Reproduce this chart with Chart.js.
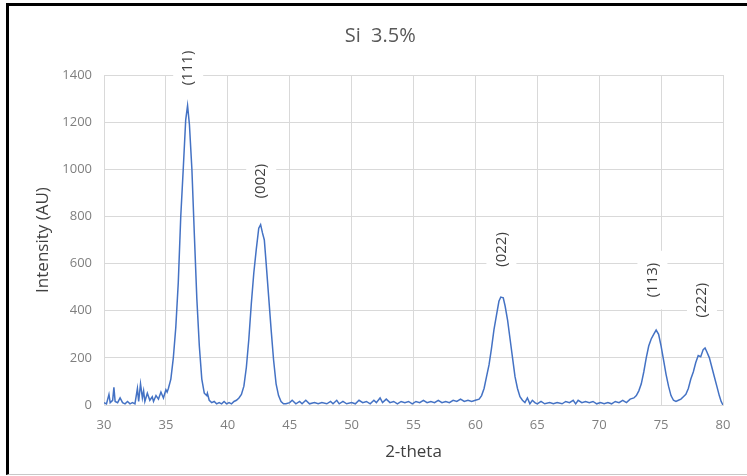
<!DOCTYPE html>
<html>
<head>
<meta charset="utf-8">
<script src="https://cdn.jsdelivr.net/npm/chart.js@4.4.0/dist/chart.umd.min.js"></script>
<style>
  html, body { margin: 0; padding: 0; background: #fff; }
  #wrap { position: relative; width: 747px; height: 476px; }
  #frame {
    position: absolute; left: 6px; top: 3px; width: 741px; height: 472px;
    border-left: 3px solid #000; border-top: 3px solid #000; border-bottom: 1px solid #c8c8c8;
    box-sizing: border-box; pointer-events: none;
  }
</style>
</head>
<body>
<div id="wrap">
  <canvas id="myChart" width="747" height="476"></canvas>
  <div id="frame"></div>
</div>
<script>
const chartTitle = "Si  3.5%"

const twoTheta = [
  30.0, 30.2, 30.4, 30.5, 30.7, 30.8, 30.9, 31.1, 31.3, 31.5, 31.7, 31.9, 32.1, 32.3, 32.5, 32.7, 32.8, 32.95, 33.1, 33.2,
  33.3, 33.5, 33.7, 33.9, 34.0, 34.2, 34.4, 34.6, 34.8, 35.0, 35.1, 35.2,
  35.4, 35.6, 35.8, 36.0, 36.2, 36.4, 36.6, 36.75, 36.9, 37.1, 37.3, 37.5, 37.7, 37.9, 38.1, 38.3, 38.35, 38.5, 38.7,
  38.9, 39.1, 39.3, 39.5, 39.7, 39.9, 40.1, 40.3, 40.5, 40.7, 40.9, 41.1,
  41.3, 41.5, 41.7, 41.9, 42.1, 42.3, 42.5, 42.65, 42.8, 42.95, 43.1, 43.3, 43.5, 43.7, 43.9, 44.1, 44.3, 44.5,
  44.7, 45.0, 45.2, 45.5, 45.8, 46.0, 46.3, 46.6, 47.0, 47.3, 47.6, 48.0, 48.3, 48.5, 48.8, 49.0, 49.3, 49.6, 50.0, 50.3,
  50.6, 50.9, 51.2, 51.5, 51.8, 52.0, 52.3, 52.5, 52.8, 53.1, 53.4, 53.7, 54.0, 54.3, 54.6, 54.9, 55.2, 55.5, 55.8, 56.1,
  56.4, 56.7, 57.0, 57.3, 57.6, 57.9, 58.2, 58.5, 58.8, 59.1, 59.4, 59.7, 60.0, 60.3,
  60.5, 60.7, 60.9, 61.1, 61.3, 61.5, 61.7, 61.9, 62.05, 62.25, 62.4, 62.6, 62.8, 63.0, 63.2, 63.4, 63.6, 63.8,
  64.0, 64.2, 64.4, 64.6, 64.8, 65.0, 65.3, 65.6, 66.0, 66.3, 66.6, 67.0, 67.3, 67.6, 67.9, 68.1, 68.3, 68.6, 68.9, 69.2,
  69.5, 69.8, 70.1, 70.4, 70.7, 71.0, 71.3, 71.6, 71.9, 72.2, 72.5, 72.8, 73.0, 73.2,
  73.4, 73.6, 73.8, 74.0, 74.2, 74.4, 74.6, 74.8, 75.0, 75.2, 75.4, 75.6, 75.8, 76.0, 76.2, 76.4, 76.6, 76.8, 77.0,
  77.2, 77.4, 77.6, 77.8, 78.0, 78.2, 78.4, 78.55, 78.7, 78.9, 79.1, 79.3, 79.5, 79.7, 79.85, 80.0
]
const intensity = [
  10, 5, 45, 10, 20, 75, 15, 10, 30, 10, 5, 15, 5, 10, 5, 70, 15, 90, 30, 60,
  15, 50, 20, 35, 15, 40, 25, 55, 30, 65, 55, 70,
  110, 200, 330, 520, 800, 1000, 1210, 1270, 1190, 1000, 720, 450, 250, 110, 50, 40, 50, 20, 10,
  15, 5, 10, 5, 15, 5, 10, 5, 15, 20, 30, 45,
  80, 160, 280, 430, 560, 660, 750, 765, 730, 700, 600, 460, 320, 190, 90, 40, 15, 5,
  5, 10, 20, 5, 15, 5, 20, 5, 10, 5, 10, 5, 15, 5, 20, 5, 15, 5, 10, 5,
  20, 10, 15, 5, 20, 10, 30, 10, 25, 10, 15, 5, 15, 10, 15, 5, 15, 10, 20, 10,
  15, 10, 20, 10, 15, 10, 20, 15, 25, 15, 20, 15, 20, 25,
  40, 70, 120, 170, 240, 320, 380, 440, 458, 455, 420, 360, 280, 200, 120, 70, 35, 20,
  10, 30, 5, 20, 10, 5, 15, 5, 10, 5, 10, 5, 15, 10, 20, 5, 20, 10, 15, 10,
  15, 5, 10, 5, 10, 5, 15, 10, 20, 10, 25, 30, 40, 60,
  90, 140, 200, 250, 280, 300, 318, 300, 250, 190, 130, 80, 40, 20, 15, 20, 25, 35, 45,
  70, 110, 140, 180, 210, 205, 235, 242, 225, 200, 160, 120, 80, 40, 15, 0
]

const peakLabels = ["(111)", "(002)", "(022)", "(113)", "(222)"]
const peakX = [36.8, 42.7, 62.1, 74.3, 78.3]
const peakLabelY = [1430, 950, 660, 530, 445]

const ctx = document.getElementById('myChart')
const font = "'Open Sans', 'Liberation Sans', sans-serif"

// title is centred a bit right of the canvas middle, like the original
const titlePlugin = {
    id: 'sheetTitle',
    afterDraw(chart) {
        const c = chart.ctx
        c.save()
        c.font = "20px " + font
        c.fillStyle = '#595959'
        c.textAlign = 'center'
        c.textBaseline = 'middle'
        c.fillText(chartTitle, chart.width * 0.509, 36)
        c.restore()
    }
}

const peakLabelPlugin = {
    id: 'peakLabels',
    afterDatasetsDraw(chart) {
        const c = chart.ctx
        const xs = chart.scales.x
        const ys = chart.scales.y
        c.save()
        c.font = "15px " + font
        for (let i = 0; i < peakLabels.length; i++) {
            const px = xs.getPixelForValue(peakX[i])
            const py = ys.getPixelForValue(peakLabelY[i])
            const w = c.measureText(peakLabels[i]).width
            c.fillStyle = '#ffffff'
            c.fillRect(px - 15, py - w / 2 - 12, 30, w + 24)
            c.translate(px, py)
            c.rotate(-Math.PI / 2)
            c.fillStyle = '#404040'
            c.textAlign = 'center'
            c.textBaseline = 'middle'
            c.fillText(peakLabels[i], 0, 0)
            c.setTransform(1, 0, 0, 1, 0, 0)
        }
        c.restore()
    }
}

new Chart(ctx, {
    type: 'line',
    data: {
        datasets: [{
            data: twoTheta.map((t, i) => ({ x: t, y: intensity[i] })),
            borderColor: '#4472c4',
            borderWidth: 1.5,
            pointRadius: 0,
            tension: 0,
            fill: false
        }]
    },
    options: {
        responsive: false,
        animation: false,
        layout: { padding: { left: 10, right: 24, top: 75, bottom: 14 } },
        plugins: {
            legend: { display: false },
            tooltip: { enabled: false },
            title: { display: false }
        },
        scales: {
            x: {
                type: 'linear',
                min: 30,
                max: 80,
                ticks: { stepSize: 5, color: '#7f7f7f', font: { family: font, size: 13 }, padding: 12 },
                grid: { color: '#d9d9d9', drawTicks: false },
                border: { color: '#d9d9d9' },
                title: { display: true, text: '2-theta', color: '#404040', font: { family: font, size: 17 }, padding: { top: 7, bottom: 0 } },
                afterFit(scale) { scale.height = 57 }
            },
            y: {
                min: 0,
                max: 1400,
                ticks: {
                    stepSize: 200, color: '#7f7f7f', font: { family: font, size: 13 }, padding: 12,
                    callback: (v) => String(v)
                },
                grid: { color: '#d9d9d9', drawTicks: false },
                border: { color: '#d9d9d9' },
                title: { display: true, text: 'Intensity (AU)', color: '#404040', font: { family: font, size: 17 }, padding: { top: 23, bottom: 0 } },
                afterFit(scale) { scale.width = 94 }
            }
        }
    },
    plugins: [peakLabelPlugin, titlePlugin]
})
</script>
</body>
</html>
